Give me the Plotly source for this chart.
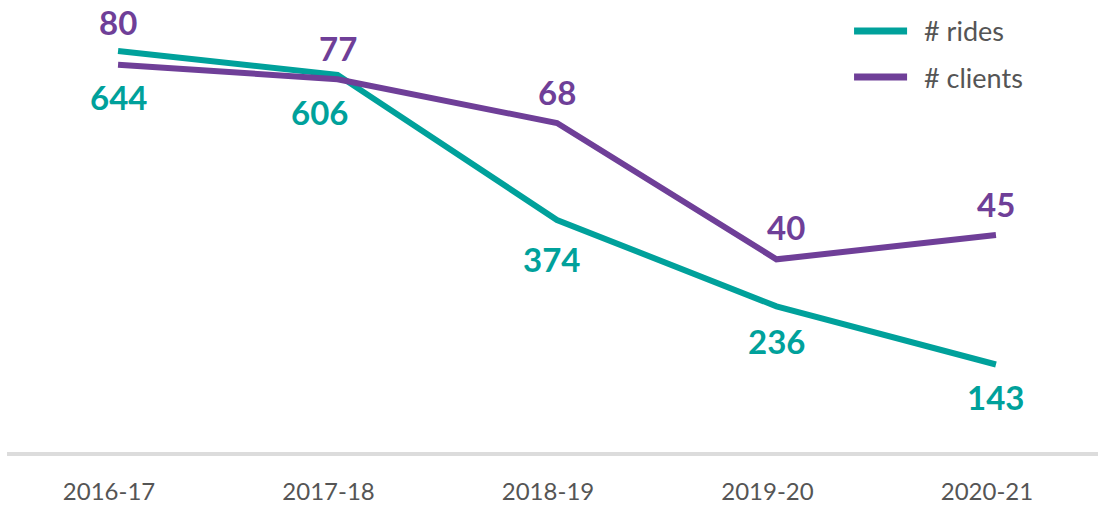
import plotly.graph_objects as go

categories = ["2016-17", "2017-18", "2018-19", "2019-20", "2020-21"]
rides = [644, 606, 374, 236, 143]
clients = [80, 77, 68, 40, 45]

TEAL = "#00A19B"
PURPLE = "#6F3F98"
GREY_TEXT = "#555555"
FONT = "Lato"

# label nudges (pixels) to avoid overlaps, as in the reference
ride_label_shift = [(0, -46), (-18, -37), (-6, -39), (0, -35), (0, -32)]
client_label_shift = [(0, 43), (0, 31), (0, 31), (10, 32), (0, 31)]

fig = go.Figure()
fig.add_trace(go.Scatter(x=categories, y=rides, mode="lines", name="# rides",
                         line=dict(color=TEAL, width=6), yaxis="y", showlegend=False))
fig.add_trace(go.Scatter(x=categories, y=clients, mode="lines", name="# clients",
                         line=dict(color=PURPLE, width=6), yaxis="y2", showlegend=False))

annotations = []
for c, v, (dx, dy) in zip(categories, rides, ride_label_shift):
    annotations.append(dict(x=c, y=v, xref="x", yref="y", text=f"<b>{v}</b>", showarrow=False,
                            xshift=dx, yshift=dy, font=dict(family=FONT, size=33, color=TEAL)))
for c, v, (dx, dy) in zip(categories, clients, client_label_shift):
    annotations.append(dict(x=c, y=v, xref="x", yref="y2", text=f"<b>{v}</b>", showarrow=False,
                            xshift=dx, yshift=dy, font=dict(family=FONT, size=33, color=PURPLE)))

# custom legend
legend_items = [("# rides", TEAL, 0.9658), ("# clients", PURPLE, 0.8607)]
shapes = []
for name, col, yy in legend_items:
    shapes.append(dict(type="line", xref="paper", yref="paper", x0=0.7764, x1=0.825, y0=yy, y1=yy,
                       line=dict(color=col, width=7)))
    annotations.append(dict(x=0.8387, y=yy, xref="paper", yref="paper", text=name, showarrow=False,
                            xanchor="left", yanchor="middle",
                            font=dict(family=FONT, size=27, color=GREY_TEXT)))

fig.update_layout(
    width=1098, height=506,
    margin=dict(l=7, r=0, t=16, b=52),
    paper_bgcolor="white", plot_bgcolor="white",
    showlegend=False,
    xaxis=dict(type="category", range=[-0.506, 4.465], showgrid=False, showline=False,
               zeroline=False, ticks="", ticklabelshift=-9, ticklabelstandoff=21,
               tickfont=dict(family=FONT, size=24, color=GREY_TEXT)),
    yaxis=dict(range=[0, 700], showgrid=False, showticklabels=False, zeroline=True,
               zerolinecolor="#DCDCDC", zerolinewidth=4, showline=False),
    yaxis2=dict(range=[0, 90], overlaying="y", side="right", showgrid=False,
                showticklabels=False, zeroline=False, showline=False),
    annotations=annotations,
    shapes=shapes,
)

fig.write_html("out.html")
